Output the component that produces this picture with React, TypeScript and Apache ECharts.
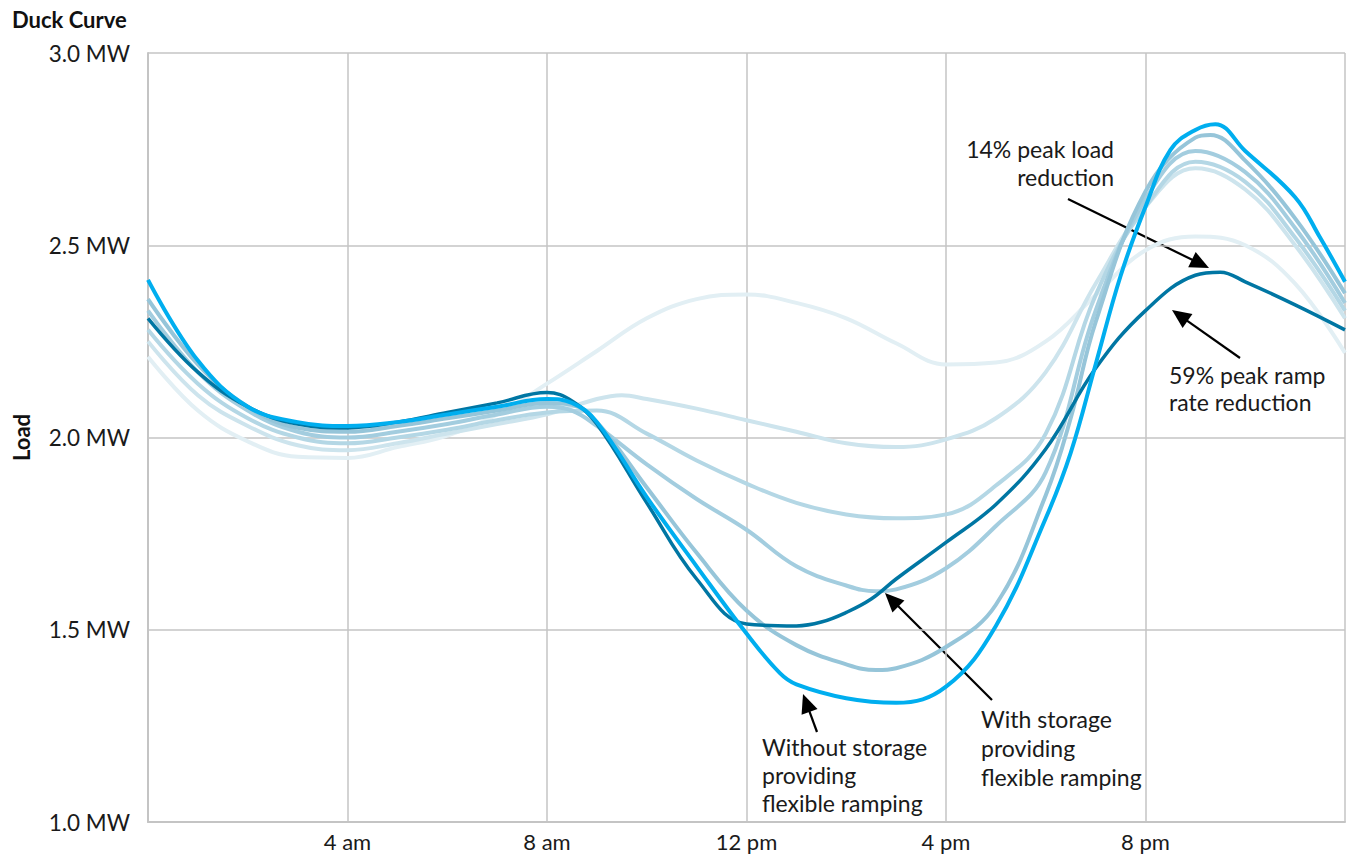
import React, { useEffect, useRef } from "react";
import * as echarts from "echarts";

// ---- data (hour of day, MW) ----
const X_TICK_LABELS: Record<number, string> = { 4: "4 am", 8: "8 am", 12: "12 pm", 16: "4 pm", 20: "8 pm" };

const palest: [number, number][] = [
  [0, 2.21], [1, 2.07], [2, 1.99], [3, 1.95], [4, 1.947], [5, 1.975], [6, 2.005], [7, 2.06], [8, 2.14],
  [9, 2.225], [10, 2.31], [11, 2.36], [12, 2.372], [13, 2.35], [14, 2.31], [15, 2.245], [16, 2.19],
  [17, 2.195], [18, 2.25], [19, 2.37], [20, 2.487], [21, 2.523], [22, 2.5], [23, 2.4], [24, 2.22],
];
const pale: [number, number][] = [
  [0, 2.25], [1, 2.11], [2, 2.03], [3, 1.98], [4, 1.967], [5, 1.985], [6, 2.01], [7, 2.035], [8, 2.06],
  [9, 2.1], [9.5, 2.11], [10, 2.1], [11, 2.075], [12, 2.045], [13, 2.015], [14, 1.985], [15, 1.975],
  [16, 1.995], [17, 2.05], [18, 2.17], [19, 2.4], [20, 2.6], [21, 2.7], [22, 2.645], [23, 2.5], [24, 2.31],
];
const mid1: [number, number][] = [
  [0, 2.28], [1, 2.14], [2, 2.05], [3, 2.0], [4, 1.985], [5, 2.0], [6, 2.02], [7, 2.045], [8, 2.065],
  [9, 2.07], [10, 2.01], [11, 1.94], [12, 1.88], [13, 1.83], [14, 1.8], [15, 1.79], [16, 1.8],
  [17, 1.875], [18, 2.01], [19, 2.37], [20, 2.6], [21, 2.717], [22, 2.665], [23, 2.52], [24, 2.33],
];
const mid2: [number, number][] = [
  [0, 2.33], [1, 2.17], [2, 2.07], [3, 2.015], [4, 2.0], [5, 2.015], [6, 2.035], [7, 2.06], [8, 2.08],
  [8.5, 2.07], [9, 2.03], [10, 1.93], [11, 1.84], [12, 1.76], [13, 1.665], [14, 1.615], [14.6, 1.6],
  [15, 1.605], [16, 1.66], [17, 1.77], [18, 1.91], [19, 2.33], [20, 2.62], [21, 2.745], [22, 2.69],
  [23, 2.545], [24, 2.35],
];
const mid3: [number, number][] = [
  [0, 2.36], [1, 2.19], [2, 2.08], [3, 2.025], [4, 2.015], [5, 2.03], [6, 2.05], [7, 2.07], [8, 2.09],
  [8.5, 2.085], [9, 2.04], [10, 1.87], [11, 1.7], [12, 1.55], [13, 1.46], [14, 1.41], [14.6, 1.395],
  [15, 1.4], [16, 1.455], [17, 1.565], [18, 1.85], [18.5, 2.05], [19, 2.3], [20, 2.64], [21, 2.78],
  [21.3, 2.787], [22, 2.72], [23, 2.57], [24, 2.375],
];
const withStorage: [number, number][] = [
  [0, 2.31], [1, 2.17], [2, 2.08], [3, 2.035], [4, 2.025], [5, 2.04], [6, 2.065], [7, 2.09], [8, 2.117],
  [8.5, 2.095], [9, 2.035], [10, 1.83], [11, 1.632], [12, 1.515], [13, 1.51], [13.5, 1.52], [14, 1.545],
  [14.5, 1.58], [15, 1.632], [16, 1.727], [17, 1.826], [18, 1.97], [19, 2.18], [20, 2.33], [21, 2.422],
  [21.5, 2.43], [22, 2.405], [23, 2.345], [24, 2.28],
];
const withoutStorage: [number, number][] = [
  [0, 2.41], [1, 2.2], [2, 2.08], [3, 2.04], [4, 2.03], [5, 2.04], [6, 2.06], [7, 2.08], [8, 2.1],
  [8.5, 2.09], [9, 2.04], [10, 1.845], [11, 1.665], [12, 1.49], [12.67, 1.387], [13, 1.358], [14, 1.322],
  [15, 1.31], [16, 1.352], [17, 1.51], [18, 1.79], [18.5, 1.96], [19, 2.19], [19.5, 2.42], [20, 2.6],
  [20.5, 2.748], [21, 2.8], [21.4, 2.815], [22, 2.745], [23, 2.625], [23.5, 2.52], [24, 2.405],
];

const SERIES = [
  { name: "palest", data: palest, color: "#e2eff4", width: 4 },
  { name: "pale", data: pale, color: "#cde4ed", width: 4 },
  { name: "mid1", data: mid1, color: "#b4d7e5", width: 4 },
  { name: "mid2", data: mid2, color: "#a3cddf", width: 4 },
  { name: "mid3", data: mid3, color: "#96c5d9", width: 4 },
  { name: "With storage", data: withStorage, color: "#0076a3", width: 3.5 },
  { name: "Without storage", data: withoutStorage, color: "#00aeef", width: 4 },
];

const FONT = "Lato, 'Open Sans', sans-serif";

function arrow(x1: number, y1: number, x2: number, y2: number) {
  const dx = x2 - x1, dy = y2 - y1;
  const len = Math.sqrt(dx * dx + dy * dy);
  const ux = dx / len, uy = dy / len;
  const hl = 19, hw = 8.5;
  const bx = x2 - ux * hl, by = y2 - uy * hl;
  return [
    { type: "line", shape: { x1, y1, x2: bx + ux * 2, y2: by + uy * 2 }, style: { stroke: "#000", lineWidth: 2.2 } },
    {
      type: "polygon",
      shape: { points: [[x2, y2], [bx - uy * hw, by + ux * hw], [bx + uy * hw, by - ux * hw]] },
      style: { fill: "#000" },
    },
  ];
}

function label(text: string, x: number, y: number, align: string, lineHeight: number) {
  return {
    type: "text",
    style: { text, x, y, align, verticalAlign: "top", lineHeight, fill: "#1a1a1a", fontSize: 23, fontFamily: FONT },
  };
}

export default function App() {
  const ref = useRef<HTMLDivElement>(null);
  useEffect(() => {
    const chart = echarts.init(ref.current!, null, { renderer: "svg" });
    chart.setOption({
      animation: false,
      title: {
        text: "Duck Curve",
        left: 7,
        top: 3,
        textStyle: { fontFamily: FONT, fontSize: 22, fontWeight: "bold", color: "#111" },
      },
      grid: { left: 148, right: 6, top: 53, bottom: 36, outerBoundsMode: "none", containLabel: false },
      xAxis: {
        type: "value",
        min: 0,
        max: 24,
        interval: 4,
        axisLine: { show: true, lineStyle: { color: "#c4c4c4", width: 2 } },
        axisTick: { show: false },
        splitLine: { show: true, lineStyle: { color: "#c4c4c4", width: 1.5 } },
        axisLabel: {
          formatter: (v: number) => X_TICK_LABELS[v] || "",
          color: "#1a1a1a",
          fontSize: 22,
          fontFamily: FONT,
          margin: 8,
        },
      },
      yAxis: {
        type: "value",
        min: 1,
        max: 3,
        interval: 0.5,
        name: "Load",
        nameLocation: "middle",
        nameRotate: 90,
        nameGap: 116,
        nameTextStyle: { fontFamily: FONT, fontSize: 22, fontWeight: "bold", color: "#111" },
        axisLine: { show: true, lineStyle: { color: "#c4c4c4", width: 2 } },
        axisTick: { show: false },
        splitLine: { show: true, lineStyle: { color: "#c4c4c4", width: 1.5 } },
        axisLabel: {
          formatter: (v: number) => v.toFixed(1) + " MW",
          color: "#1a1a1a",
          fontSize: 22.5,
          fontFamily: FONT,
          margin: 18,
        },
      },
      series: SERIES.map((s) => ({
        name: s.name,
        type: "line",
        data: s.data,
        smooth: 0.4,
        showSymbol: false,
        symbol: "none",
        lineStyle: { color: s.color, width: s.width },
        z: 2,
      })),
      graphic: [
        ...arrow(817, 732, 803, 694),
        ...arrow(992, 700, 885, 593),
        ...arrow(1068, 199, 1209, 268),
        ...arrow(1240, 358, 1172, 310),
        label("14% peak load\nreduction", 1114, 135, "right", 28),
        label("59% peak ramp\nrate reduction", 1169, 361, "left", 27),
        label("With storage\nproviding\nflexible ramping", 981, 704, "left", 29),
        label("Without storage\nproviding\nflexible ramping", 762, 733, "left", 28),
      ],
    });
    return () => chart.dispose();
  }, []);
  return <div ref={ref} style={{ position: "fixed", left: 0, top: 0, width: 1351, height: 858, background: "#fff" }} />;
}
